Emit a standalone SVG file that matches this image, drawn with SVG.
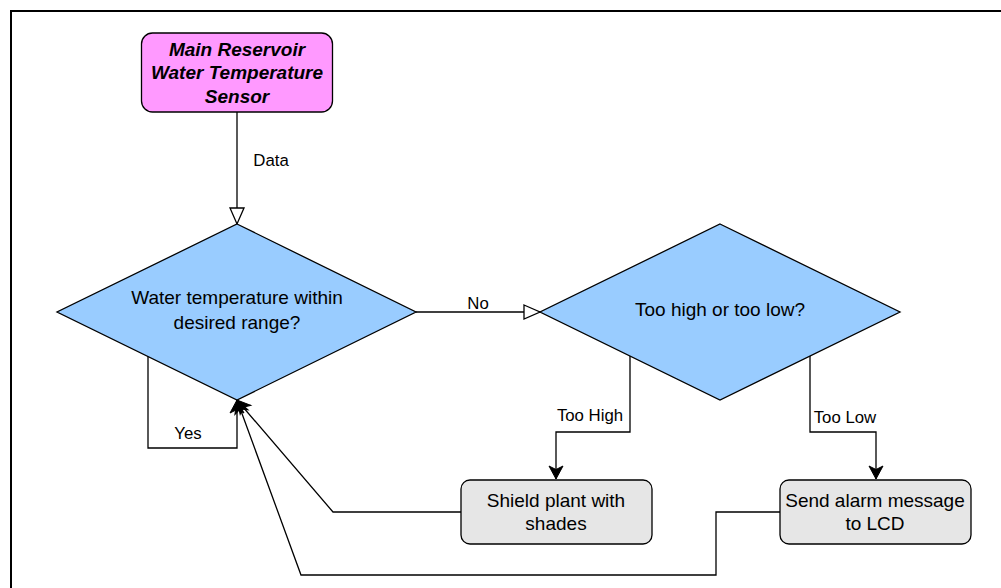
<svg xmlns="http://www.w3.org/2000/svg" width="1001" height="588" viewBox="0 0 1001 588">
  <style>
    .frame { fill: none; stroke: #000; stroke-width: 2; }
    .edge { fill: none; stroke: #000; stroke-width: 1.3; }
    .node { stroke: #000; stroke-width: 1.3; }
    .sensor { fill: #FF99FF; }
    .decision { fill: #99CCFF; }
    .action { fill: #E6E6E6; }
    text { font-family: "Liberation Sans", Arial, sans-serif; fill: #000; text-anchor: middle; }
    .title { font-size: 19px; font-weight: bold; font-style: italic; }
    .body { font-size: 19px; }
    .label { font-size: 16.8px; }
  </style>
  <defs>
    <marker id="open" markerUnits="userSpaceOnUse" markerWidth="18" markerHeight="16" refX="16.5" refY="7.5" orient="auto" overflow="visible">
      <path d="M0.5,0.5 L16.5,7.5 L0.5,14.5 Z" fill="#fff" stroke="#000" stroke-width="1.3"/>
    </marker>
    <marker id="solid" markerUnits="userSpaceOnUse" markerWidth="14" markerHeight="14" refX="13" refY="7" orient="auto" overflow="visible">
      <path d="M0,0 L13,7 L0,14 L3.5,7 Z" fill="#000" stroke="#000" stroke-width="1"/>
    </marker>
  </defs>

  <rect width="1001" height="588" fill="#fff"/>
  <path class="frame" d="M11,588 V11 H1001"/>

  <g id="connectors">
    <!-- sensor to first check -->
    <path class="edge" d="M237,112 V224" marker-end="url(#open)"/>
    <text class="label" x="271" y="166">Data</text>
    <!-- in range: loop back -->
    <path class="edge" d="M148,355 V448 H237 V400" marker-end="url(#solid)"/>
    <text class="label" x="188" y="439">Yes</text>
    <!-- out of range -->
    <path class="edge" d="M416,312 H540" marker-end="url(#open)"/>
    <text class="label" x="478" y="309">No</text>
    <!-- too high branch -->
    <path class="edge" d="M630,356 V432 H556 V479" marker-end="url(#solid)"/>
    <text class="label" x="590" y="421">Too High</text>
    <!-- too low branch -->
    <path class="edge" d="M810,356 V432 H876 V479" marker-end="url(#solid)"/>
    <text class="label" x="845" y="423">Too Low</text>
    <!-- actions return to the check -->
    <path class="edge" d="M461,512 H333 L237,400" marker-end="url(#solid)"/>
    <path class="edge" d="M780,512 H716 V575 H301 L237,400" marker-end="url(#solid)"/>
  </g>

  <g id="sensor">
    <rect class="node sensor" x="141.5" y="33" width="191" height="79" rx="11"/>
    <text class="title" x="237" y="56">Main Reservoir</text>
    <text class="title" x="237" y="79">Water Temperature</text>
    <text class="title" x="237" y="103">Sensor</text>
  </g>

  <g id="range-check">
    <polygon class="node decision" points="237,224 416,312 237,400 57,312"/>
    <text class="body" x="237" y="303.5">Water temperature within</text>
    <text class="body" x="237" y="328.5">desired range?</text>
  </g>

  <g id="high-low-check">
    <polygon class="node decision" points="720,224 900,312 720,400 540,312"/>
    <text class="body" x="720" y="315.5">Too high or too low?</text>
  </g>

  <g id="shield">
    <rect class="node action" x="461" y="480" width="191" height="64" rx="9"/>
    <text class="body" x="556" y="506.5">Shield plant with</text>
    <text class="body" x="556" y="529.5">shades</text>
  </g>

  <g id="alarm">
    <rect class="node action" x="780" y="480" width="191" height="64" rx="9"/>
    <text class="body" x="875" y="506.5">Send alarm message</text>
    <text class="body" x="875" y="529.5">to LCD</text>
  </g>
</svg>
